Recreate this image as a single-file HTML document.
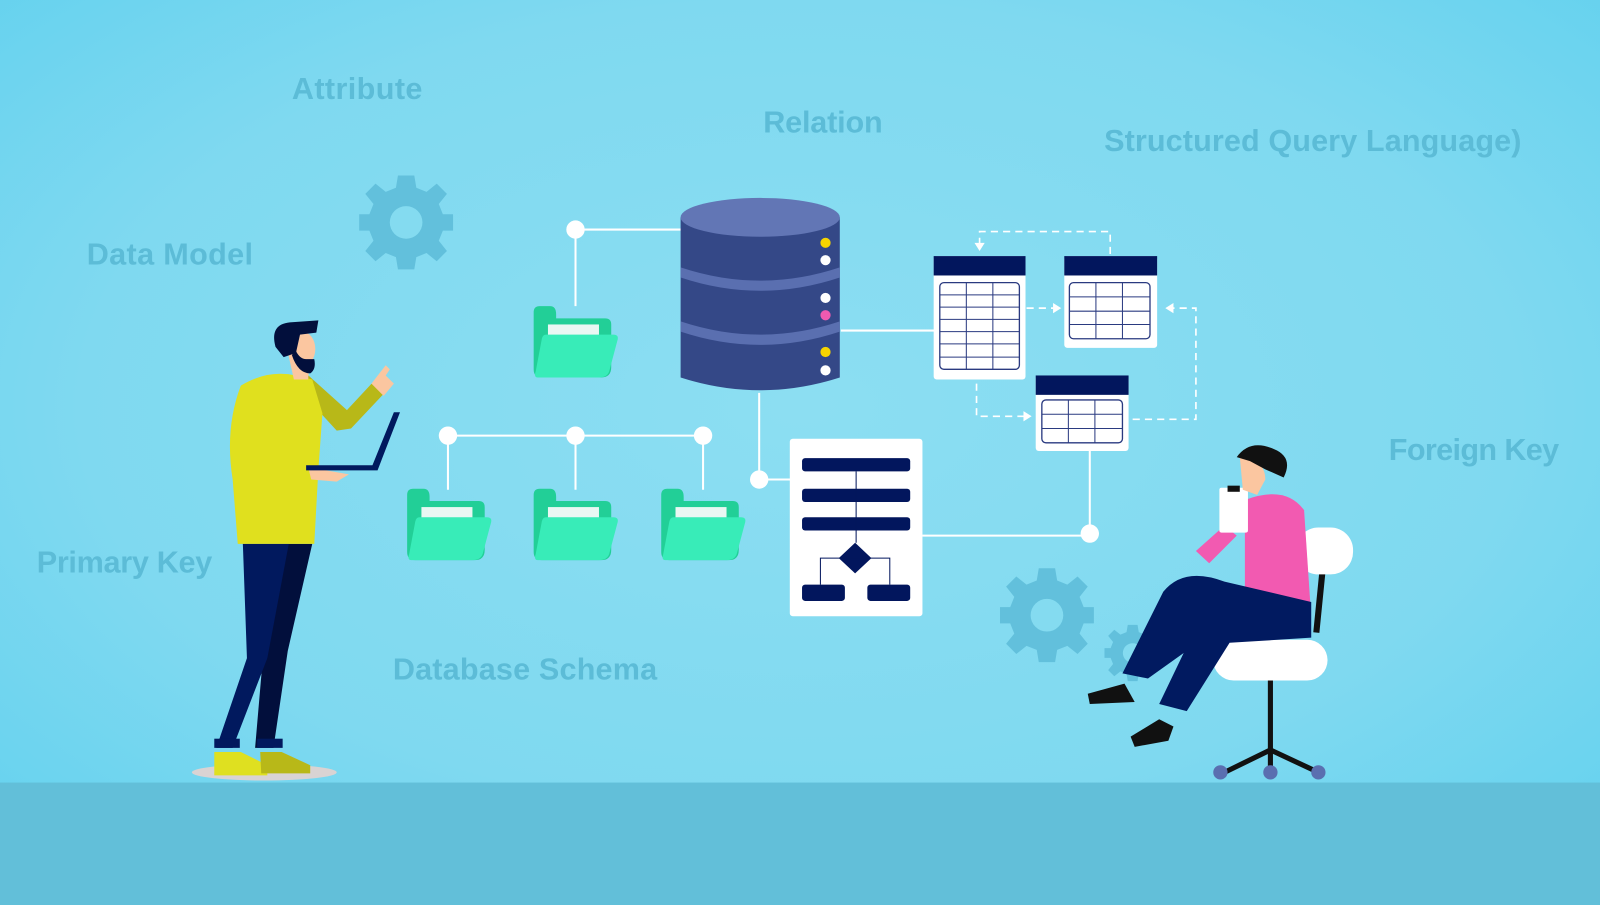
<!DOCTYPE html>
<html><head><style>html,body{margin:0;padding:0;width:1600px;height:905px;overflow:hidden}svg{display:block}</style></head>
<body>
<svg width="1600" height="905" viewBox="0 0 1568 887" xmlns="http://www.w3.org/2000/svg" preserveAspectRatio="none">
<defs>
<radialGradient id="bg" cx="0.5" cy="0.45" r="0.75">
<stop offset="0" stop-color="#8cdef2"/><stop offset="0.6" stop-color="#7fd9f0"/><stop offset="1" stop-color="#5fd0ee"/>
</radialGradient>
<g id="gear">
<path d="M-8,-46 L8,-46 L10,-34 L20,-30 L30,-38 L40,-28 L32,-18 L36,-8 L46,-8 L46,8 L36,8 L32,18 L40,28 L30,38 L20,30 L10,34 L8,46 L-8,46 L-10,34 L-20,30 L-30,38 L-40,28 L-32,18 L-36,8 L-46,8 L-46,-8 L-36,-8 L-32,-18 L-40,-28 L-30,-38 L-20,-30 L-10,-34 Z" fill="#62c0dc"/>
<circle r="16" fill="#84dbf0"/>
</g>
<g id="folder">
<path d="M0,6 Q0,0 6,0 L16,0 Q22,0 22,8 L22,12 L70,12 Q76,12 76,18 L76,60 Q76,70 66,70 L8,70 Q0,70 0,62 Z" fill="#22cf97"/>
<rect x="14" y="18" width="50" height="14" fill="#e9f7f3"/>
<path d="M10,28 L78,28 Q84,28 82,34 L74,64 Q72,70 64,70 L4,70 Q0,70 2,64 L8,32 Q9,28 12,28 Z" fill="#38ecb8"/>
</g>
</defs>
<rect width="1568" height="887" fill="url(#bg)"/>
<rect y="767" width="1568" height="120" fill="#62bfd9"/>

<g font-family="Liberation Sans, sans-serif" font-weight="bold" font-size="30" fill="#5cbcd7">
<text x="286" y="97" textLength="128">Attribute</text>
<text x="748" y="130" textLength="117">Relation</text>
<text x="1082" y="148" textLength="409">Structured Query Language)</text>
<text x="85" y="259" textLength="163">Data Model</text>
<text x="1361" y="451" textLength="167">Foreign Key</text>
<text x="36" y="561" textLength="172">Primary Key</text>
<text x="385" y="666" textLength="259">Database Schema</text>
</g>

<use href="#gear" x="398" y="218"/>
<use href="#gear" x="1026" y="603"/>
<g transform="translate(1110,640) scale(0.6)"><use href="#gear"/></g>

<!-- connectors -->
<g stroke="#fff" stroke-width="2" fill="none">
<path d="M564,225 L668,225 M564,225 L564,300"/>
<path d="M439,427 L689,427 M439,427 L439,480 M564,427 L564,480 M689,427 L689,480"/>
<path d="M744,385 L744,470 L775,470"/>
<path d="M824,324 L916,324"/>
<path d="M904,525 L1068,525 L1068,440"/>
<g stroke-dasharray="7,5" stroke-width="1.6">
<path d="M960,240 L960,227 L1088,227 L1088,252"/>
<path d="M1006,302 L1034,302"/>
<path d="M957,376 L957,408 L1006,408"/>
<path d="M1110,411 L1172,411 L1172,302 L1150,302"/>
</g>
</g>
<g fill="#fff">
<path d="M955,238 L965,238 L960,246Z"/>
<path d="M1032,297 L1040,302 L1032,307Z"/>
<path d="M1003,403 L1011,408 L1003,413Z"/>
<path d="M1150,297 L1142,302 L1150,307Z"/>
<circle cx="564" cy="225" r="9"/><circle cx="439" cy="427" r="9"/><circle cx="564" cy="427" r="9"/><circle cx="689" cy="427" r="9"/>
<circle cx="744" cy="470" r="9"/><circle cx="1068" cy="523" r="9"/>
</g>

<use href="#folder" x="523" y="300"/>
<use href="#folder" x="399" y="479"/>
<use href="#folder" x="523" y="479"/>
<use href="#folder" x="648" y="479"/>

<!-- database -->
<g>
<path d="M667,213 L667,370 Q745,395 823,370 L823,213 Z" fill="#344887"/>
<path d="M667,262 Q745,288 823,262 L823,272 Q745,298 667,272Z" fill="#5a6fb0"/>
<path d="M667,315 Q745,341 823,315 L823,325 Q745,351 667,325Z" fill="#5a6fb0"/>
<ellipse cx="745" cy="213" rx="78" ry="19" fill="#6276b5"/>
<circle cx="809" cy="238" r="5" fill="#f6d400"/><circle cx="809" cy="255" r="5" fill="#fff"/>
<circle cx="809" cy="292" r="5" fill="#fff"/><circle cx="809" cy="309" r="5" fill="#f15ab0"/>
<circle cx="809" cy="345" r="5" fill="#f6d400"/><circle cx="809" cy="363" r="5" fill="#fff"/>
</g>

<!-- tables -->
<g>
<rect x="915" y="251" width="90" height="121" rx="3" fill="#fff"/><rect x="915" y="251" width="90" height="19" fill="#02165d"/>
<rect x="921" y="277" width="78" height="85" rx="4" fill="none" stroke="#2a3a80" stroke-width="1.3"/>
<path d="M947,277V362M973,277V362M921,289H999M921,301H999M921,313H999M921,325H999M921,337H999M921,350H999" stroke="#2a3a80" stroke-width="1"/>
<rect x="1043" y="251" width="91" height="90" rx="3" fill="#fff"/><rect x="1043" y="251" width="91" height="19" fill="#02165d"/>
<rect x="1048" y="277" width="79" height="55" rx="4" fill="none" stroke="#2a3a80" stroke-width="1.3"/>
<path d="M1074,277V332M1100,277V332M1048,291H1127M1048,305H1127M1048,318H1127" stroke="#2a3a80" stroke-width="1"/>
<rect x="1015" y="368" width="91" height="74" rx="3" fill="#fff"/><rect x="1015" y="368" width="91" height="19" fill="#02165d"/>
<rect x="1021" y="392" width="79" height="42" rx="4" fill="none" stroke="#2a3a80" stroke-width="1.3"/>
<path d="M1047,392V434M1073,392V434M1021,406H1100M1021,420H1100" stroke="#2a3a80" stroke-width="1"/>
</g>

<!-- flowchart doc -->
<g>
<rect x="774" y="430" width="130" height="174" rx="3" fill="#fff"/>
<g fill="#02165d">
<rect x="786" y="449" width="106" height="13" rx="3"/><rect x="786" y="479" width="106" height="13" rx="3"/><rect x="786" y="507" width="106" height="13" rx="3"/>
<path d="M838,532 L854,547 L838,562 L822,547Z"/>
<rect x="786" y="573" width="42" height="16" rx="3"/><rect x="850" y="573" width="42" height="16" rx="3"/>
</g>
<path d="M839,462V532M804,573V547H872V573" stroke="#02165d" fill="none" stroke-width="1"/>
</g>

<!-- man -->
<g>
<ellipse cx="259" cy="757" rx="71" ry="8" fill="#d9d3d3"/>
<path d="M238,533 L306,533 L282,638 L268,733 L250,733 L258,640Z" fill="#020f3c"/>
<path d="M238,533 L283,533 L262,645 L228,733 L212,733 L242,645 Z" fill="#01195e"/>
<rect x="210" y="724" width="25" height="9" fill="#01195e"/><rect x="252" y="724" width="25" height="9" fill="#01195e"/>
<path d="M210,737 L236,737 L262,750 L262,760 L210,760Z" fill="#dfe020"/>
<path d="M255,737 L276,737 L304,750 L304,758 L256,758Z" fill="#b8b818"/>
<!-- back arm -->
<path d="M284,372 L300,366 L340,402 L366,374 L376,386 L344,420 L330,422 Z" fill="#b8b818"/>
<path d="M364,376 L378,358 L382,362 L378,368 L386,376 L376,388Z" fill="#fbc6a0"/>
<!-- torso -->
<path d="M236,378 Q262,362 290,368 L306,372 L316,405 L312,460 L308,533 L233,533 L228,470 Q220,420 236,378Z" fill="#e0e01e"/>
<path d="M302,458 L342,465 L330,472 L305,470Z" fill="#fbc6a0"/>
<path d="M300,461 L370,461 L392,404 L386,404 L365,456 L300,456Z" fill="#01195e"/>
<!-- head -->
<path d="M282,345 L304,345 L302,372 L288,372Z" fill="#fbc6a0"/>
<ellipse cx="296" cy="342" rx="13" ry="17" fill="#fbc6a0"/>
<path d="M286,348 Q292,366 304,366 Q310,362 308,352 L300,352 Q294,352 290,344Z" fill="#020f3c"/>
<path d="M270,340 Q264,318 284,316 L312,314 L310,326 L294,328 L290,346 L278,350Z" fill="#020f3c"/>
</g>

<!-- woman + chair -->
<g>
<path d="M1245,665 V745 M1245,735 L1200,757 M1245,735 L1292,757 M1245,735 V757" stroke="#111" stroke-width="5" fill="none"/>
<circle cx="1196" cy="757" r="7" fill="#5a6fb0"/><circle cx="1245" cy="757" r="7" fill="#5a6fb0"/><circle cx="1292" cy="757" r="7" fill="#5a6fb0"/>
<rect x="1189" y="627" width="112" height="40" rx="20" fill="#fff"/>
<path d="M1296,560 L1290,620" stroke="#111" stroke-width="6"/>
<rect x="1270" y="517" width="56" height="46" rx="22" fill="#fff"/>
<path d="M1220,490 Q1260,475 1278,500 L1284,590 L1220,590 Z" fill="#f25ab1"/>
<path d="M1140,580 Q1160,555 1200,570 L1285,590 L1285,625 L1205,630 L1163,697 L1136,690 L1160,640 L1125,665 L1100,660Z" fill="#011a60"/>
<path d="M1066,680 L1102,670 L1112,688 L1068,690Z" fill="#111"/>
<path d="M1108,722 L1136,705 L1150,712 L1145,726 L1112,732Z" fill="#111"/>
<path d="M1172,540 L1200,515 L1212,525 L1185,552Z" fill="#f25ab1"/>
<rect x="1195" y="478" width="28" height="44" rx="2" fill="#fff"/><rect x="1203" y="476" width="12" height="6" fill="#111"/>
<path d="M1215,448 Q1240,450 1240,470 L1232,485 L1218,480Z" fill="#fbc6a0"/>
<path d="M1212,448 Q1225,430 1248,440 Q1268,448 1258,468 L1240,460 L1225,452Z" fill="#111"/>
</g>
</svg>
</body></html>
